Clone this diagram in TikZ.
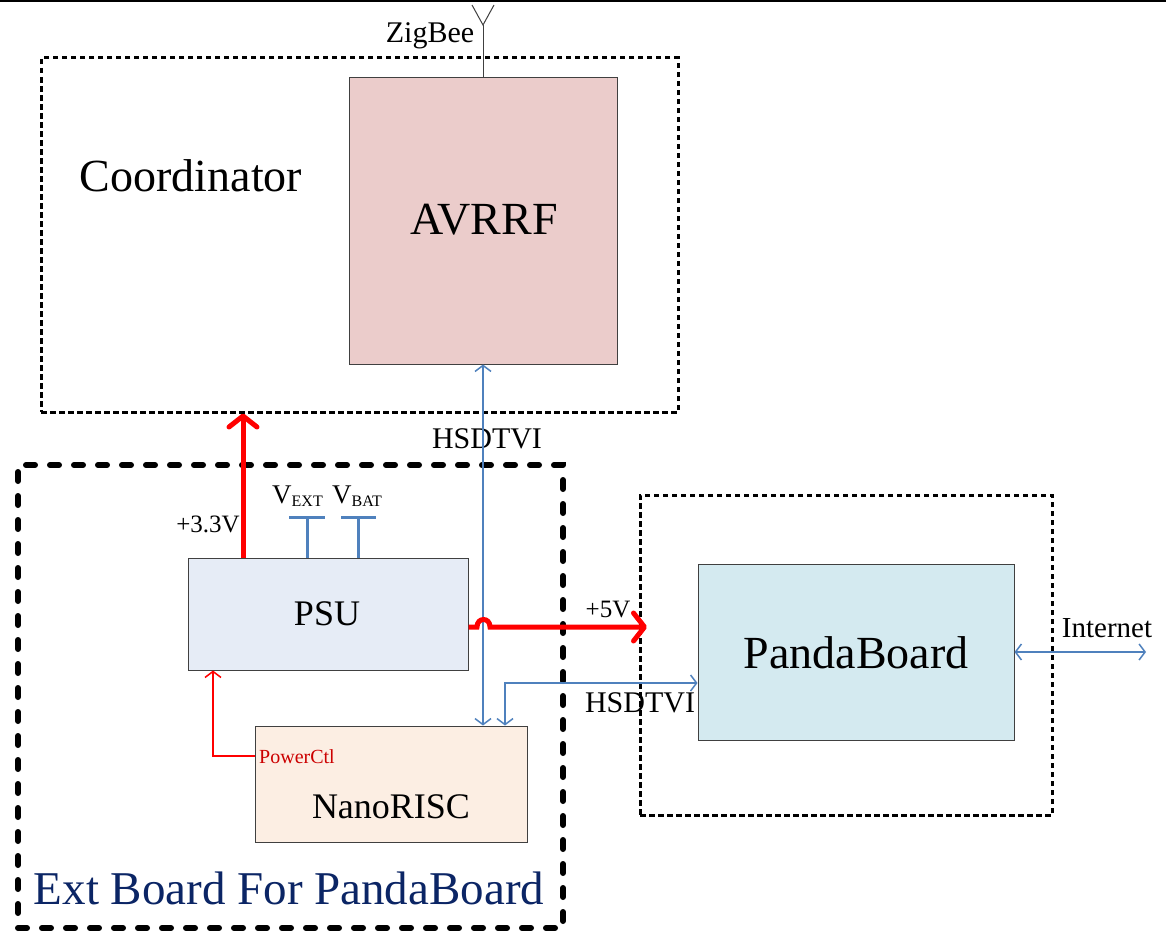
\documentclass[tikz,border=0pt]{standalone}
\usepackage{fontspec}
\setmainfont{Liberation Serif}
\usetikzlibrary{arrows.meta}
\newcommand\fsz[1]{\fontsize{#1}{#1}\selectfont}
\definecolor{avrfill}{HTML}{EBCCCB}
\definecolor{psufill}{HTML}{E6ECF6}
\definecolor{nanofill}{HTML}{FCEEE3}
\definecolor{pandafill}{HTML}{D4EAF0}
\definecolor{linkblue}{HTML}{4F81BD}
\definecolor{titleblue}{HTML}{0B2565}
\definecolor{boxedge}{HTML}{404040}
\tikzset{
  blk/.style={draw=boxedge, line width=1pt, inner sep=0pt},
  dotbox/.style={draw=black, line width=3pt, dash pattern=on 5.5pt off 3.5pt, inner sep=0pt},
  heavydash/.style={draw=black, line width=6pt, line cap=round, dash pattern=on 9pt off 15pt, inner sep=0pt},
  powerline/.style={draw=red, line width=5pt, -{Straight Barb[length=11pt,width=28pt,round]}},
  datalink/.style={draw=linkblue, line width=1.5pt, {Straight Barb[length=6pt,width=16pt]}-{Straight Barb[length=6pt,width=16pt]}},
  datain/.style={draw=linkblue, line width=1.5pt},
  ctlline/.style={draw=red, line width=1.5pt, -{Straight Barb[length=6pt,width=16pt]}},
  lbl/.style={inner sep=0pt, anchor=base},
}
\begin{document}
\begin{tikzpicture}[x=1pt,y=-1pt]
\useasboundingbox (0,0) rectangle (1166,934);
\fill[white] (0,0) rectangle (1166,934);
% top rule
\coordinate (topL) at (0,1.2);
\coordinate (topR) at (1166,1.2);
\draw[line width=2.6pt] (topL) -- (topR);

% containers
\node[dotbox, minimum width=637pt, minimum height=354pt] (coord) at (359.5,235) {};
\node[heavydash, minimum width=545pt, minimum height=463pt] (ext) at (290.5,696.5) {};
\node[dotbox, minimum width=412pt, minimum height=320pt] (pout) at (846,655) {};

% blocks
\node[blk, fill=avrfill, minimum width=268pt, minimum height=287pt] (avr) at (483,220.5) {};
\node[blk, fill=psufill, minimum width=280pt, minimum height=112pt] (psu) at (328,614) {};
\node[blk, fill=nanofill, minimum width=272pt, minimum height=116pt] (nano) at (391,784) {};
\node[blk, fill=pandafill, minimum width=316pt, minimum height=176pt] (panda) at (856,652) {};

% texts
\node[lbl] (tcoord) at (191,191) {\fsz{46}Coordinator};
\node[lbl] (tavr) at (484,234) {\fsz{46}AVRRF};
\node[lbl] (tzig) at (430,43) {\fsz{30}ZigBee};
\node[lbl] (tpsu) at (327,625) {\fsz{36}PSU};
\node[lbl] (tnano) at (391,818) {\fsz{36}NanoRISC};
\node[lbl] (tpanda) at (856,668) {\fsz{46}PandaBoard};
\node[lbl, text=titleblue] (text) at (289,904) {\fsz{47}Ext Board For PandaBoard};
\node[lbl] (ths1) at (487,448) {\fsz{30}HSDTVI};
\node[lbl] (ths2) at (640,712) {\fsz{30}HSDTVI};
\node[lbl] (t5v) at (608,617) {\fsz{25}+5V};
\node[lbl] (t33) at (208,532) {\fsz{25}+3.3V};
\node[lbl] (tnet) at (1107,637) {\fsz{29}Internet};
\node[lbl, text=red!80!black] (tpc) at (297,763) {\fsz{20}PowerCtl};
\node[inner sep=0pt, anchor=base west] (tvext) at (272,503) {\fsz{27}V\textsubscript{\fsz{16}EXT}};
\node[inner sep=0pt, anchor=base west] (tvbat) at (332,503) {\fsz{27}V\textsubscript{\fsz{16}BAT}};

% antenna
\coordinate (antB) at (483,25);
\coordinate (antL) at (472,5);
\coordinate (antR) at (494,5);
\draw[line width=1pt, draw=boxedge] (avr.north) -- (antB);
\draw[line width=1pt, draw=boxedge] (antL) -- (antB) -- (antR);

% supply stubs
\coordinate (vext) at (307,517);
\coordinate (vbat) at (358,517);
\draw[datain, line width=3pt] (psu.north -| vext) -- (vext);
\draw[datain, line width=3pt] ([xshift=-18pt]vext) -- ([xshift=18pt]vext);
\draw[datain, line width=3pt] (psu.north -| vbat) -- (vbat);
\draw[datain, line width=3pt] ([xshift=-17pt]vbat) -- ([xshift=18pt]vbat);

% +3.3V
\coordinate (x33) at (243,0);
\draw[powerline] (psu.north -| x33) -- (coord.south -| x33);

% HSDTVI to AVRRF
\draw[datalink] (avr.south) -- (nano.north -| avr.south);

% +5V with hop
\coordinate (hopA) at (477,627);
\coordinate (hopB) at (490,627);
\coordinate (p5) at (647,627);
\draw[powerline] (psu.east |- hopA) -- (hopA) .. controls (477,617) and (490,617) .. (hopB) -- (p5);

% HSDTVI to PandaBoard
\coordinate (hs2) at (505,683);
\draw[datalink] (panda.west |- hs2) -- (hs2) -- (nano.north -| hs2);

% PowerCtl
\coordinate (pc) at (213,756);
\draw[ctlline] (nano.west |- pc) -- (pc) -- (psu.south -| pc);

% Internet
\coordinate (inet) at (1146,652);
\draw[datalink] (panda.east) -- (inet);
\end{tikzpicture}
\end{document}
